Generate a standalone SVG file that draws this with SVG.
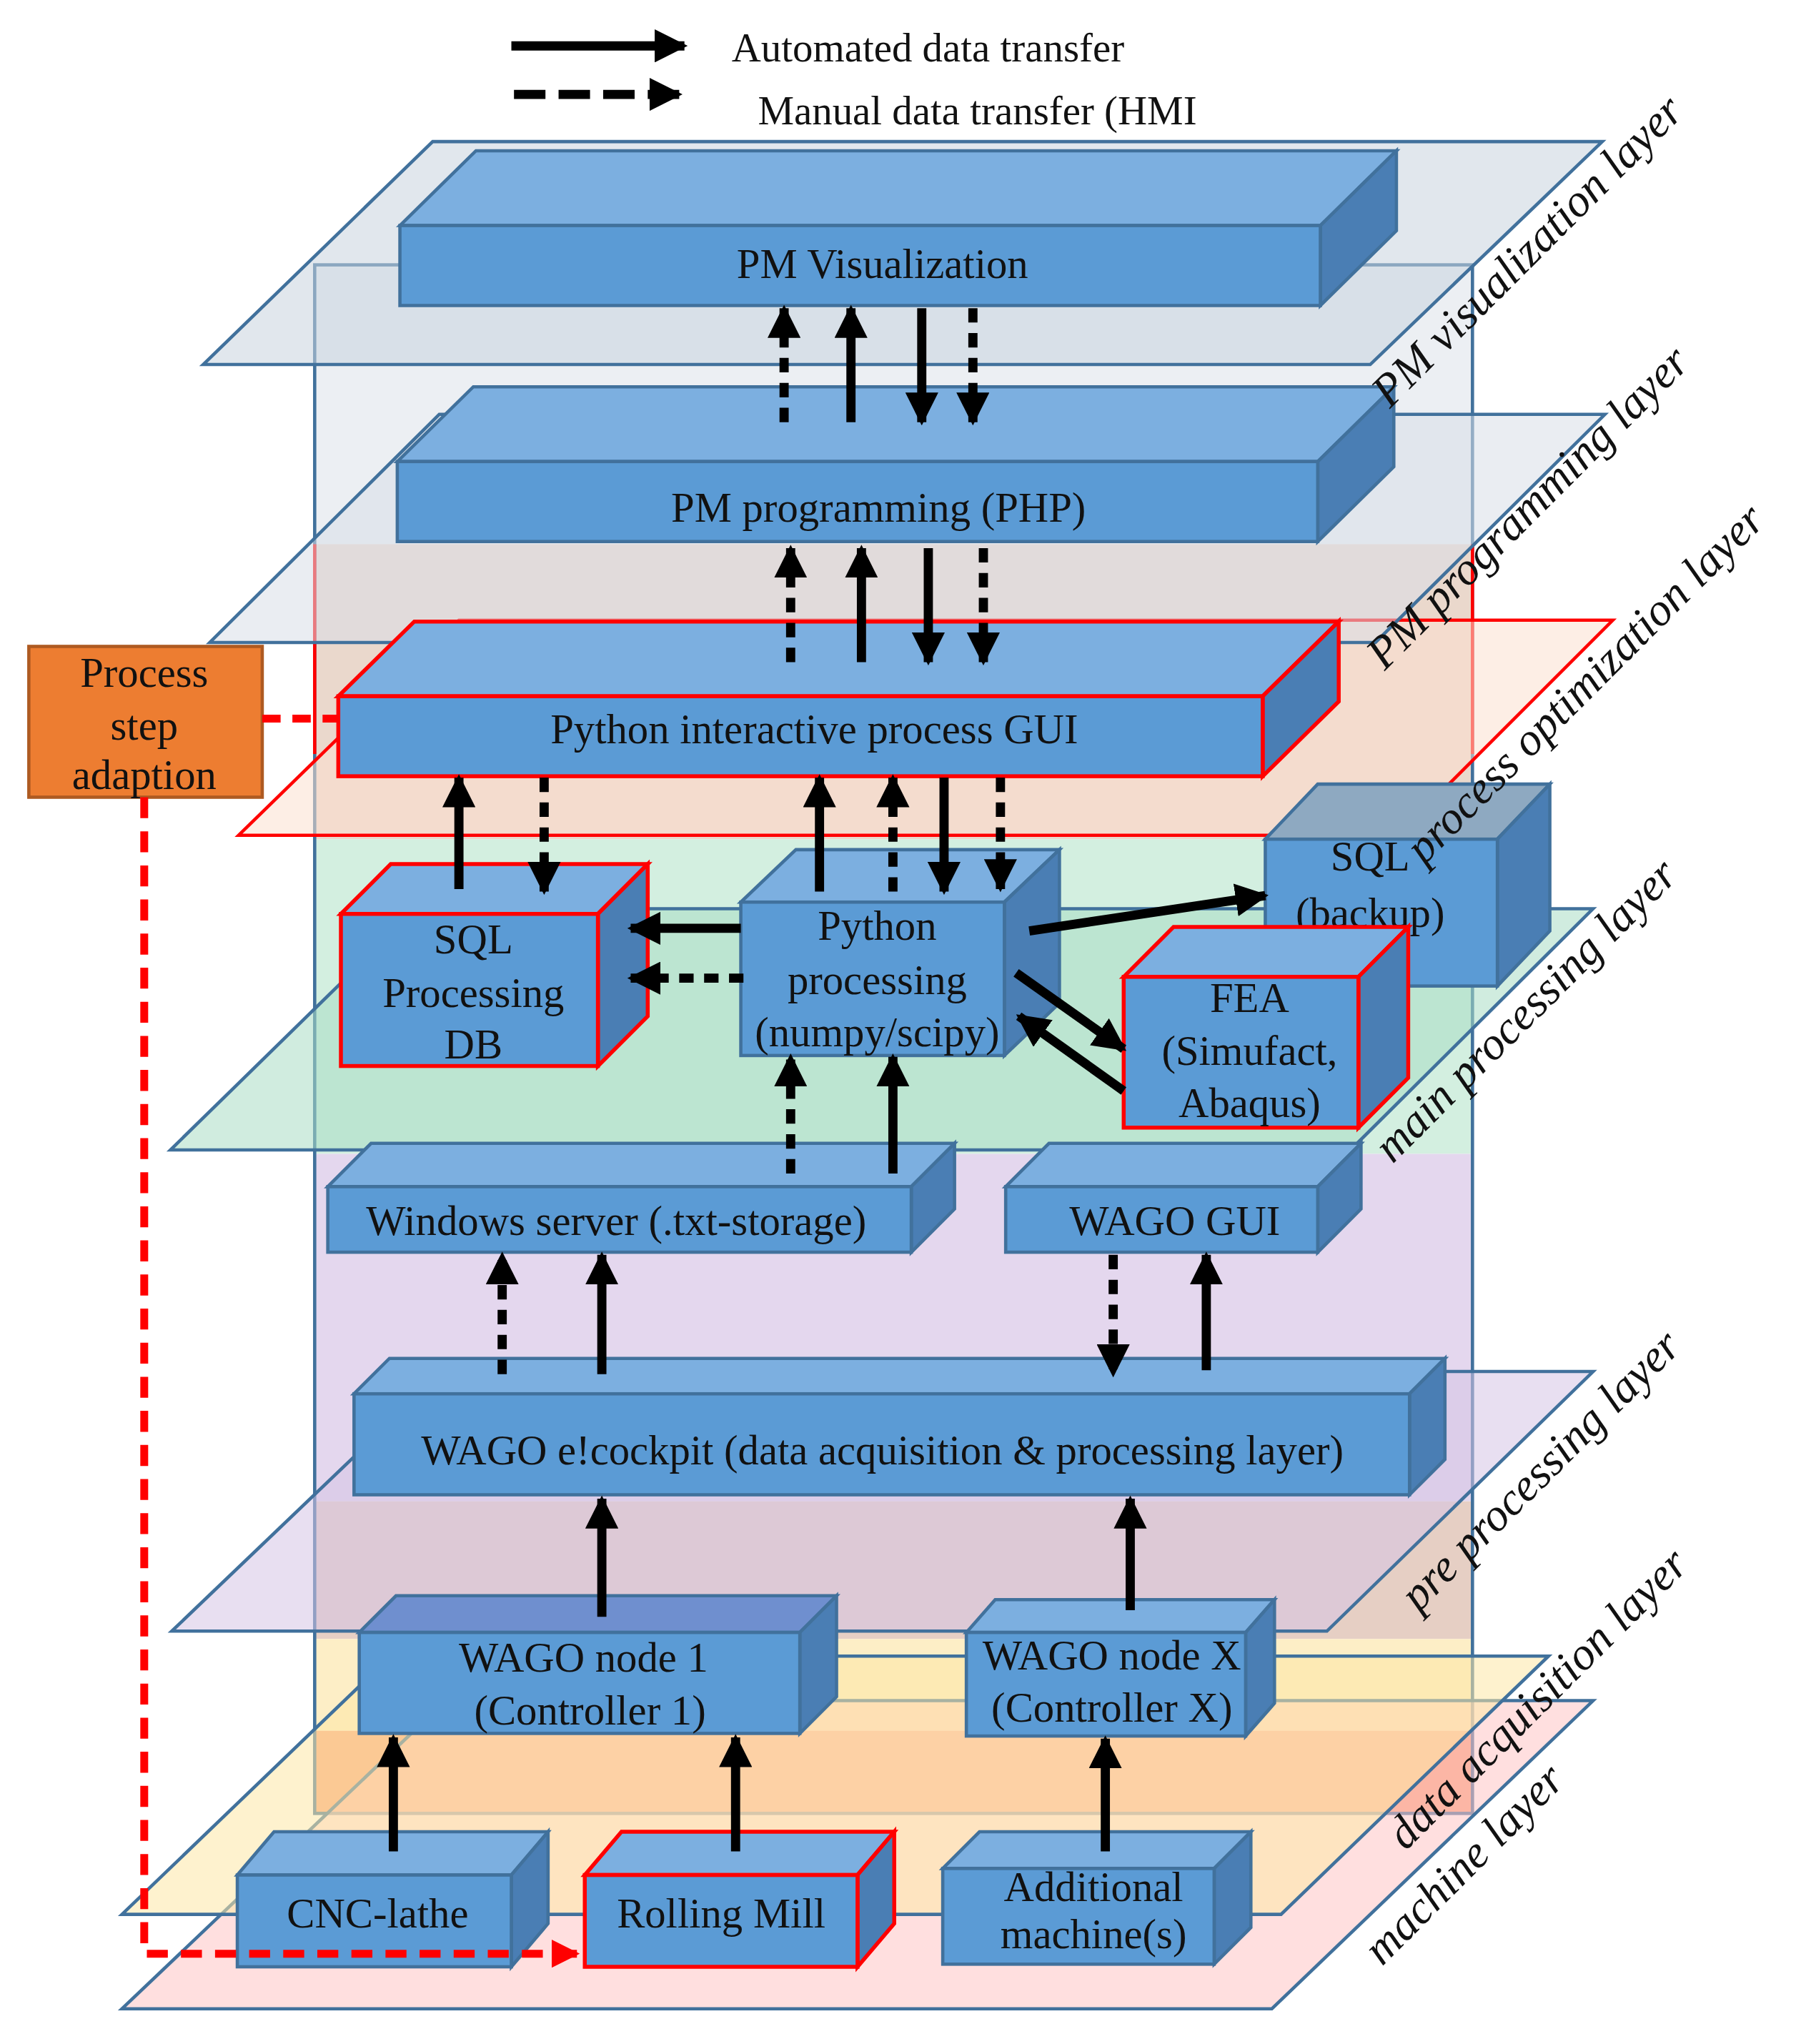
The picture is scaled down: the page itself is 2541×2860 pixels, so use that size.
<svg xmlns="http://www.w3.org/2000/svg" width="2541" height="2860" viewBox="0 0 2541 2860">
<defs>
<marker id="ah" viewBox="0 0 10 10" refX="9" refY="5" markerWidth="3.6" markerHeight="3.6" orient="auto" markerUnits="strokeWidth"><path d="M0,0 L10,5 L0,10 Z" fill="#000"/></marker>
<marker id="ahr" viewBox="0 0 10 10" refX="9" refY="5" markerWidth="3.6" markerHeight="3.6" orient="auto" markerUnits="strokeWidth"><path d="M0,0 L10,5 L0,10 Z" fill="#ff0000"/></marker>
<style>
text{font-family:"Liberation Serif","DejaVu Serif",serif;font-size:32px;fill:#111;text-anchor:middle}
.lay{font-style:italic;font-size:35px;text-anchor:start}
.pl{stroke:#41719c;stroke-width:2.5;fill-opacity:0.55}
.f{fill:#5b9bd5;stroke:#41719c;stroke-width:2.5}
.t{fill:#7cafe0;stroke:#41719c;stroke-width:2.5}
.s{fill:#4a7eb4;stroke:#41719c;stroke-width:2.5}
.red .f,.red .t,.red .s{stroke:#ff0000;stroke-width:3}
.a{stroke:#000;stroke-width:7;fill:none;marker-end:url(#ah)}
.d{stroke:#000;stroke-width:7;fill:none;stroke-dasharray:11 8;marker-end:url(#ah)}
</style>
</defs>
<rect width="2541" height="2860" fill="#fff"/>
<g transform="scale(1.83466)">
<g id="frame">
<rect x="240" y="202" width="883" height="213" fill="#eceff3"/>
<rect x="240" y="415" width="883" height="225" fill="#ead8cc"/>
<rect x="240" y="640" width="883" height="240" fill="#d3efe0"/>
<rect x="240" y="880" width="883" height="265" fill="#e4d7ee"/>
<rect x="240" y="1145" width="883" height="105" fill="#e6cfc4"/>
<rect x="240" y="1250" width="883" height="70" fill="#fdeec6"/>
<rect x="240" y="1320" width="883" height="63" fill="#f9a47e"/>
<rect x="240" y="202" width="883" height="1181" fill="none" stroke="#41719c" stroke-width="2.5"/>
<path d="M240,415 V575 M1123,415 V575" stroke="#ff0000" stroke-width="2.5"/>
</g>
<g id="layers">
<path class="pl" fill="#ffc4c4" d="M340,1297 L1215,1297 L970,1532 L93,1532 Z"/>
<path class="pl" fill="#fde7a6" d="M298,1263 L1181,1263 L977,1460 L93,1460 Z"/>
<path class="pl" fill="#d6c5e6" d="M338,1046 L1215,1046 L1012,1244 L131,1244 Z"/>
<path class="pl" fill="#a9dcc4" d="M318,693 L1215,693 L1030,877 L130,877 Z"/>
<path class="pl" fill="#fbe0cf" style="stroke:#ff0000" d="M350,473 L1230,473 L1066,637 L182,637 Z"/>
<path class="pl" fill="#d9dfe8" d="M335,316 L1224,316 L1049,490 L160,490 Z"/>
<path class="pl" fill="#c9d3df" d="M330,108 L1222,108 L1045,278 L155,278 Z"/>
</g>
<g id="n-viz"><path class="t" d="M305,172 L363,115 L1065,115 L1007,172 Z"/><path class="s" d="M1007,172 L1065,115 L1065,176 L1007,233 Z"/><rect class="f" x="305" y="172" width="702" height="61"/><text x="673" y="212">PM Visualization</text></g>
<g id="n-prog"><path class="t" d="M303,352 L361,295 L1063,295 L1005,352 Z"/><path class="s" d="M1005,352 L1063,295 L1063,356 L1005,413 Z"/><rect class="f" x="303" y="352" width="702" height="61"/><text x="670" y="398">PM programming (PHP)</text></g>
<g id="n-gui" class="red"><path class="t" d="M258,531 L316,474 L1021,474 L963,531 Z"/><path class="s" d="M963,531 L1021,474 L1021,535 L963,592 Z"/><rect class="f" x="258" y="531" width="705" height="61"/><text x="621" y="567">Python interactive process GUI</text></g>
<g id="n-sqlbk"><path class="t" style="fill:#8ea9c1" d="M965,640 L1005,598 L1182,598 L1142,640 Z"/><path class="s" d="M1142,640 L1182,598 L1182,710 L1142,752 Z"/><rect class="f" x="965" y="640" width="177" height="112"/><text x="1045" y="664">SQL</text><text x="1045" y="707">(backup)</text></g>
<g id="n-sqldb" class="red"><path class="t" d="M260,697 L298,659 L494,659 L456,697 Z"/><path class="s" d="M456,697 L494,659 L494,775 L456,813 Z"/><rect class="f" x="260" y="697" width="196" height="116"/><text x="361" y="727">SQL</text><text x="361" y="768">Processing</text><text x="361" y="807">DB</text></g>
<g id="n-py"><path class="t" d="M565,688 L607,648 L808,648 L766,688 Z"/><path class="s" d="M766,688 L808,648 L808,765 L766,805 Z"/><rect class="f" x="565" y="688" width="201" height="117"/><text x="669" y="717">Python</text><text x="669" y="758">processing</text><text x="669" y="798">(numpy/scipy)</text></g>
<g id="n-fea" class="red"><path class="t" d="M857,745 L895,707 L1074,707 L1036,745 Z"/><path class="s" d="M1036,745 L1074,707 L1074,822 L1036,860 Z"/><rect class="f" x="857" y="745" width="179" height="115"/><text x="953" y="772">FEA</text><text x="953" y="812">(Simufact,</text><text x="953" y="852">Abaqus)</text></g>
<g id="n-win"><path class="t" d="M250,905 L283,872 L728,872 L695,905 Z"/><path class="s" d="M695,905 L728,872 L728,922 L695,955 Z"/><rect class="f" x="250" y="905" width="445" height="50"/><text x="470" y="942">Windows server (.txt-storage)</text></g>
<g id="n-wgui"><path class="t" d="M767,905 L800,872 L1038,872 L1005,905 Z"/><path class="s" d="M1005,905 L1038,872 L1038,922 L1005,955 Z"/><rect class="f" x="767" y="905" width="238" height="50"/><text x="896" y="942">WAGO GUI</text></g>
<g id="n-eco"><path class="t" d="M270,1063 L297,1036 L1102,1036 L1075,1063 Z"/><path class="s" d="M1075,1063 L1102,1036 L1102,1113 L1075,1140 Z"/><rect class="f" x="270" y="1063" width="805" height="77"/><text x="673" y="1117">WAGO e!cockpit (data acquisition &amp; processing layer)</text></g>
<g id="n-node1"><path class="t" style="fill:#6f8fcf" d="M274,1245 L302,1217 L638,1217 L610,1245 Z"/><path class="s" d="M610,1245 L638,1217 L638,1294 L610,1322 Z"/><rect class="f" x="274" y="1245" width="336" height="77"/><text x="445" y="1275">WAGO node 1</text><text x="450" y="1315">(Controller 1)</text></g>
<g id="n-nodex"><path class="t" d="M737,1245 L759,1220 L972,1220 L950,1245 Z"/><path class="s" d="M950,1245 L972,1220 L972,1299 L950,1324 Z"/><rect class="f" x="737" y="1245" width="213" height="79"/><text x="848" y="1273">WAGO node X</text><text x="848" y="1313">(Controller X)</text></g>
<g id="n-cnc"><path class="t" d="M181,1430 L209,1397 L418,1397 L390,1430 Z"/><path class="s" d="M390,1430 L418,1397 L418,1467 L390,1500 Z"/><rect class="f" x="181" y="1430" width="209" height="70"/><text x="288" y="1470">CNC-lathe</text></g>
<g id="n-roll" class="red"><path class="t" d="M446,1430 L474,1397 L682,1397 L654,1430 Z"/><path class="s" d="M654,1430 L682,1397 L682,1467 L654,1500 Z"/><rect class="f" x="446" y="1430" width="208" height="70"/><text x="550" y="1470">Rolling Mill</text></g>
<g id="n-add"><path class="t" d="M719,1425 L747,1397 L954,1397 L926,1425 Z"/><path class="s" d="M926,1425 L954,1397 L954,1470 L926,1498 Z"/><rect class="f" x="719" y="1425" width="207" height="73"/><text x="834" y="1450">Additional</text><text x="834" y="1486">machine(s)</text></g>
<g id="n-step"><rect x="22" y="493" width="178" height="115" fill="#ed7d31" stroke="#ae5a21" stroke-width="2.5"/><text x="110" y="524">Process</text><text x="110" y="564">step</text><text x="110" y="602">adaption</text></g>
<g id="connectors">
<path d="M200,548 H258" stroke="#ff0000" stroke-width="6" stroke-dasharray="14 9" fill="none"/>
<path d="M110,608 V1490 H440" stroke="#ff0000" stroke-width="6" stroke-dasharray="16 10" fill="none" marker-end="url(#ahr)"/>
<path class="d" d="M598,322 V235"/><path class="a" d="M649,322 V235"/><path class="a" d="M703,235 V322"/><path class="d" d="M742,235 V322"/>
<path class="d" d="M603,505 V418"/><path class="a" d="M657,505 V418"/><path class="a" d="M708,418 V505"/><path class="d" d="M750,418 V505"/>
<path class="a" d="M350,678 V593"/><path class="d" d="M415,593 V680"/>
<path class="a" d="M625,680 V593"/><path class="d" d="M681,680 V593"/><path class="a" d="M720,593 V680"/><path class="d" d="M763,593 V678"/>
<path class="a" d="M565,708 H481"/><path class="d" d="M567,746 H481"/>
<path class="a" d="M785,710 L965,683"/>
<path class="a" d="M775,742 L857,800"/><path class="a" d="M857,832 L777,775"/>
<path class="d" d="M603,895 V806"/><path class="a" d="M681,895 V806"/>
<path class="d" d="M383,1048 V957"/><path class="a" d="M459,1048 V957"/>
<path class="d" d="M849,957 V1048"/><path class="a" d="M920,1045 V957"/>
<path class="a" d="M459,1233 V1143"/><path class="a" d="M862,1228 V1143"/>
<path class="a" d="M300,1412 V1325"/><path class="a" d="M561,1412 V1325"/><path class="a" d="M843,1412 V1326"/>
</g>
<g id="legend">
<path class="a" d="M390,35 H522"/><path class="d" style="stroke-dasharray:24 10" d="M392,72 H518"/>
<text x="558" y="47" style="text-anchor:start;font-size:31px">Automated data transfer</text>
<text x="578" y="95" style="text-anchor:start;font-size:31px">Manual data transfer (HMI</text>
</g>
<g id="layer-labels">
<text class="lay" transform="translate(1060,312) rotate(-45)">PM visualization layer</text>
<text class="lay" transform="translate(1056,512) rotate(-45)">PM programming layer</text>
<text class="lay" transform="translate(1086,660) rotate(-45)">process optimization layer</text>
<text class="lay" transform="translate(1062,888) rotate(-45)">main processing layer</text>
<text class="lay" transform="translate(1082,1230) rotate(-45)">pre processing layer</text>
<text class="lay" transform="translate(1072,1412) rotate(-45)">data acquisition layer</text>
<text class="lay" transform="translate(1054,1500) rotate(-45)">machine layer</text>
</g>
</g>
</svg>
